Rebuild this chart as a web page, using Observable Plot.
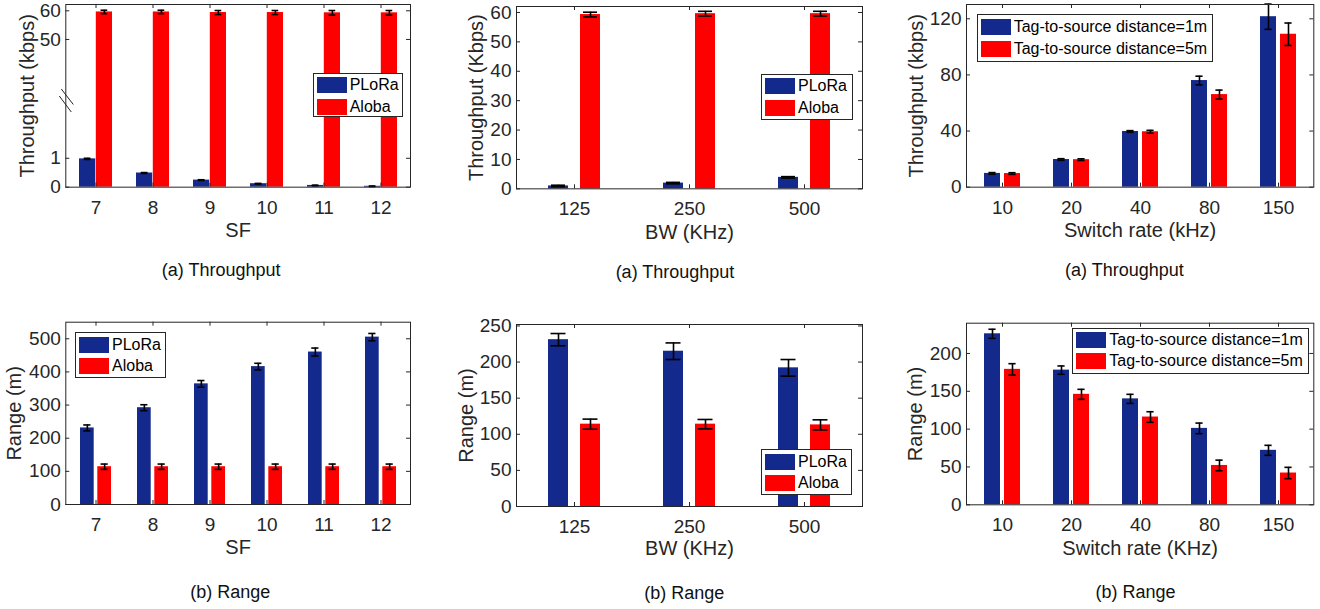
<!DOCTYPE html>
<html><head><meta charset="utf-8">
<script src="https://cdn.jsdelivr.net/npm/d3@7"></script>
<script src="https://cdn.jsdelivr.net/npm/@observablehq/plot@0.6"></script>
<style>
body{margin:0;background:#fff;}
#page{position:relative;width:1320px;height:609px;overflow:hidden;font-family:"Liberation Sans",Arial,Helvetica,sans-serif;}
#page svg{position:absolute;overflow:visible;}
.legend{position:absolute;background:#fff;border:1px solid #262626;box-sizing:border-box;font-size:16px;color:#000;}
.legend .row{position:absolute;height:16px;display:flex;align-items:center;white-space:nowrap;}
.legend .sw{display:inline-block;width:30px;height:16px;margin-right:3px;flex:none;}
</style></head><body><div id="page"></div>
<script>
// ---------- data ----------
const sfCats = ["7","8","9","10","11","12"];
const bwCats = ["125","250","500"];
const srCats = ["10","20","40","80","150"];
const seriesAB = ["PLoRa","Aloba"];
const seriesDist = ["Tag-to-source distance=1m","Tag-to-source distance=5m"];

// (a) Throughput vs SF
const thrSF_PLoRa     = [0.98, 0.49, 0.245, 0.12, 0.06, 0.03];
const thrSF_PLoRaErr  = [0.02, 0.015, 0.012, 0.01, 0.01, 0.01];
const thrSF_Aloba     = [59.6, 59.6, 59.4, 59.4, 59.3, 59.3];
const thrSF_AlobaErr  = [0.6, 0.6, 0.7, 0.7, 0.8, 0.8];
// (a) Throughput vs BW
const thrBW_PLoRa     = [0.98, 1.95, 3.9];
const thrBW_PLoRaErr  = [0.25, 0.25, 0.25];
const thrBW_Aloba     = [59.3, 59.6, 59.6];
const thrBW_AlobaErr  = [0.8, 0.8, 0.8];
// (a) Throughput vs switch rate
const thrSR_1m        = [9.8, 19.7, 39.7, 76, 121.5];
const thrSR_1mErr     = [0.6, 0.6, 0.6, 3.1, 9];
const thrSR_5m        = [9.7, 19.6, 39.5, 66, 109];
const thrSR_5mErr     = [0.6, 0.6, 1, 3.2, 8];
// (b) Range vs SF
const rngSF_PLoRa     = [231, 292, 364, 416, 460, 505];
const rngSF_PLoRaErr  = [9, 9, 10, 10, 12, 11];
const rngSF_Aloba     = [114, 114, 114, 114, 114, 114];
const rngSF_AlobaErr  = [8, 8, 8, 8, 8, 8];
// (b) Range vs BW
const rngBW_PLoRa     = [231, 215, 192];
const rngBW_PLoRaErr  = [8.5, 11.5, 11.5];
const rngBW_Aloba     = [114, 114, 113];
const rngBW_AlobaErr  = [7, 6.5, 7];
// (b) Range vs switch rate
const rngSR_1m        = [226, 178, 140, 101, 72];
const rngSR_1mErr     = [6, 5.5, 6, 7, 6.6];
const rngSR_5m        = [179, 146, 116, 52, 42];
const rngSR_5mErr     = [7.5, 6.6, 7, 7, 7.5];

// tick labels
const thrSF_yTicks = [0, 1, 50, 60];
const thrBW_yTicks = [0, 10, 20, 30, 40, 50, 60];
const thrSR_yTicks = [0, 40, 80, 120];
const rngSF_yTicks = [0, 100, 200, 300, 400, 500];
const rngBW_yTicks = [0, 50, 100, 150, 200, 250];
const rngSR_yTicks = [0, 50, 100, 150, 200];

// texts
const yLabels = ["Throughput (kbps)", "Throughput (Kbps)", "Throughput (kbps)", "Range (m)", "Range (m)", "Range (m)"];
const xLabels = ["SF", "BW (KHz)", "Switch rate (kHz)", "SF", "BW (KHz)", "Switch rate (KHz)"];
const captions = ["(a) Throughput", "(a) Throughput", "(a) Throughput", "(b) Range", "(b) Range", "(b) Range"];

// ---------- styles ----------
const BLUE = "#14298c", RED = "#ff0000", AX = "#262626";
const FONT = '"Liberation Sans", Arial, Helvetica, sans-serif';

const page = document.getElementById("page");

function makePanel(cfg) {
  const {cats, s1, e1, s2, e2, names} = cfg;
  const [fl, fr, ft, fb] = cfg.frame;
  const ml = fl - cfg.left, mr = cfg.left + cfg.width - fr;
  const mt = ft - cfg.top, mb = cfg.top + cfg.height - fb;
  const fw = fr - fl, fh = fb - ft;
  const step = fw / cats.length;
  const p = 1 - cfg.groupW / step;
  const ins = cfg.groupW - cfg.barW;
  const off = (cfg.groupW - cfg.barW) / 2;
  const capIn = (cfg.groupW - cfg.capW) / 2;
  const data = cats.map((c, i) => ({
    c, a: s1[i], alo: s1[i] - e1[i], ahi: s1[i] + e1[i],
    b: s2[i], blo: s2[i] - e2[i], bhi: s2[i] + e2[i]
  }));
  const ew = 1.6;
  const ticks = cfg.yTicks;
  const marks = [
    Plot.barY(data, {x: "c", y: "a", fill: BLUE, insetRight: ins}),
    Plot.barY(data, {x: "c", y: "b", fill: RED, insetLeft: ins}),
    Plot.ruleX(data, {x: "c", y1: "alo", y2: "ahi", dx: -off, stroke: "#000", strokeWidth: ew}),
    Plot.ruleX(data, {x: "c", y1: "blo", y2: "bhi", dx: off, stroke: "#000", strokeWidth: ew}),
    Plot.tickY(data, {x: "c", y: "ahi", dx: -off, insetLeft: capIn, insetRight: capIn, stroke: "#000", strokeWidth: ew}),
    Plot.tickY(data, {x: "c", y: "alo", dx: -off, insetLeft: capIn, insetRight: capIn, stroke: "#000", strokeWidth: ew}),
    Plot.tickY(data, {x: "c", y: "bhi", dx: off, insetLeft: capIn, insetRight: capIn, stroke: "#000", strokeWidth: ew}),
    Plot.tickY(data, {x: "c", y: "blo", dx: off, insetLeft: capIn, insetRight: capIn, stroke: "#000", strokeWidth: ew}),
    Plot.tickY(ticks, {y: d => d, insetRight: fw - 4, stroke: AX}),
    Plot.tickY(ticks, {y: d => d, insetLeft: fw - 4, stroke: AX}),
    Plot.tickX(cats, {x: d => d, insetTop: fh - 4, stroke: AX}),
    Plot.tickX(cats, {x: d => d, insetBottom: fh - 4, stroke: AX}),
    Plot.frame({stroke: AX}),
    Plot.text([cfg.yLabel], {text: d => d, frameAnchor: "left", textAnchor: "middle", lineAnchor: "middle", rotate: -90, dx: cfg.yLabelDx, fontSize: 20, fill: AX}),
    Plot.text([cfg.xLabel], {text: d => d, frameAnchor: "bottom", textAnchor: "middle", lineAnchor: "middle", dy: cfg.xLabelDy, fontSize: 20, fill: AX}),
    Plot.text([cfg.caption], {text: d => d, frameAnchor: "bottom", textAnchor: "middle", lineAnchor: "middle", dx: cfg.capDx, dy: cfg.capDy, fontSize: 18, fill: "#111"})
  ];
  if (cfg.breakY !== undefined) {
    const breakSym = {draw(ctx) {
      ctx.moveTo(-4.5, -11.5); ctx.lineTo(7.5, 4);
      ctx.moveTo(-6.5, -4.5); ctx.lineTo(5.5, 11.5);
    }};
    marks.push(Plot.dot([cfg.breakY], {y: d => d, frameAnchor: "left", symbol: breakSym, stroke: AX, fill: "none", strokeWidth: 1, r: 5}));
  }
  const svg = Plot.plot({
    width: cfg.width, height: cfg.height,
    marginLeft: ml, marginRight: mr, marginTop: mt, marginBottom: mb,
    style: {fontFamily: FONT, fontSize: "19px", color: AX, background: "transparent", overflow: "visible"},
    x: {type: "band", domain: cats, paddingInner: p, paddingOuter: p / 2, tickSize: 0, tickPadding: 13, label: null},
    y: Object.assign({}, cfg.yScale, {ticks: ticks, tickSize: 0, tickPadding: 5, label: null}),
    marks
  });
  svg.style.left = cfg.left + "px";
  svg.style.top = cfg.top + "px";
  page.appendChild(svg);

  // legend
  const L = cfg.legend;
  const box = document.createElement("div");
  box.className = "legend";
  Object.assign(box.style, {left: L.x + "px", top: L.y + "px", width: L.w + "px", height: L.h + "px"});
  [BLUE, RED].forEach((col, i) => {
    const row = document.createElement("div");
    row.className = "row";
    row.style.left = "3px";
    row.style.top = (i === 0 ? L.r1 : L.r2) + "px";
    const sw = document.createElement("span");
    sw.className = "sw"; sw.style.background = col;
    row.appendChild(sw);
    row.appendChild(document.createTextNode(names[i]));
    box.appendChild(row);
  });
  page.appendChild(box);
}

const panels = [
  {left: 0, top: 0, width: 430, height: 300, frame: [65.3, 410, 4, 186.67],
   cats: sfCats, s1: thrSF_PLoRa, e1: thrSF_PLoRaErr, s2: thrSF_Aloba, e2: thrSF_AlobaErr, names: seriesAB,
   yScale: {type: "linear", domain: [0, 3, 28.7, 62.2], range: [186.67, 100, 100, 4]}, yTicks: thrSF_yTicks, breakY: 15,
   groupW: 33.3, barW: 16.5, capW: 7,
   yLabel: yLabels[0], xLabel: xLabels[0], caption: captions[0], yLabelDx: -38, xLabelDy: 43.5, capDx: -17, capDy: 83.5,
   legend: {x: 312.7, y: 72.7, w: 90.6, h: 44.6, r1: 3.6, r2: 25}},
  {left: 430, top: 0, width: 440, height: 300, frame: [516, 862, 6, 188.33],
   cats: bwCats, s1: thrBW_PLoRa, e1: thrBW_PLoRaErr, s2: thrBW_Aloba, e2: thrBW_AlobaErr, names: seriesAB,
   yScale: {domain: [0, 62.04]}, yTicks: thrBW_yTicks,
   groupW: 52, barW: 20, capW: 14,
   yLabel: yLabels[1], xLabel: xLabels[1], caption: captions[1], yLabelDx: -40, xLabelDy: 43.5, capDx: -14.5, capDy: 83.3,
   legend: {x: 761, y: 74, w: 91.7, h: 46, r1: 3.3, r2: 25}},
  {left: 870, top: 0, width: 450, height: 300, frame: [966, 1313.3, 4, 186.67],
   cats: srCats, s1: thrSR_1m, e1: thrSR_1mErr, s2: thrSR_5m, e2: thrSR_5mErr, names: seriesDist,
   yScale: {domain: [0, 130.2]}, yTicks: thrSR_yTicks,
   groupW: 36.3, barW: 16.3, capW: 7.5,
   yLabel: yLabels[2], xLabel: xLabels[2], caption: captions[2], yLabelDx: -50, xLabelDy: 43.3, capDx: -15.7, capDy: 83.3,
   legend: {x: 976.7, y: 14, w: 236.6, h: 47.7, r1: 4.3, r2: 26}},
  {left: 0, top: 305, width: 430, height: 304, frame: [65.3, 410, 321.7, 504],
   cats: sfCats, s1: rngSF_PLoRa, e1: rngSF_PLoRaErr, s2: rngSF_Aloba, e2: rngSF_AlobaErr, names: seriesAB,
   yScale: {domain: [0, 550]}, yTicks: rngSF_yTicks,
   groupW: 31.3, barW: 14, capW: 7.5,
   yLabel: yLabels[3], xLabel: xLabels[3], caption: captions[3], yLabelDx: -51, xLabelDy: 43, capDx: -8, capDy: 87.7,
   legend: {x: 75, y: 331.7, w: 90.7, h: 46.7, r1: 4, r2: 25}},
  {left: 430, top: 305, width: 440, height: 304, frame: [516, 862, 324, 506],
   cats: bwCats, s1: rngBW_PLoRa, e1: rngBW_PLoRaErr, s2: rngBW_Aloba, e2: rngBW_AlobaErr, names: seriesAB,
   yScale: {domain: [0, 252]}, yTicks: rngBW_yTicks,
   groupW: 52, barW: 20, capW: 15,
   yLabel: yLabels[4], xLabel: xLabels[4], caption: captions[4], yLabelDx: -50, xLabelDy: 42.5, capDx: -5.3, capDy: 86.7,
   legend: {x: 761, y: 449.3, w: 90.7, h: 46, r1: 4, r2: 24.7}},
  {left: 870, top: 305, width: 450, height: 304, frame: [966, 1313.3, 322.7, 504.3],
   cats: srCats, s1: rngSR_1m, e1: rngSR_1mErr, s2: rngSR_5m, e2: rngSR_5mErr, names: seriesDist,
   yScale: {domain: [0, 240]}, yTicks: rngSR_yTicks,
   groupW: 36.3, barW: 16.3, capW: 7.5,
   yLabel: yLabels[5], xLabel: xLabels[5], caption: captions[5], yLabelDx: -50.7, xLabelDy: 43.7, capDx: -4.7, capDy: 87.4,
   legend: {x: 1072.3, y: 327.7, w: 237, h: 46.3, r1: 3, r2: 24.7}}
];

panels.forEach(makePanel);
</script></body></html>
